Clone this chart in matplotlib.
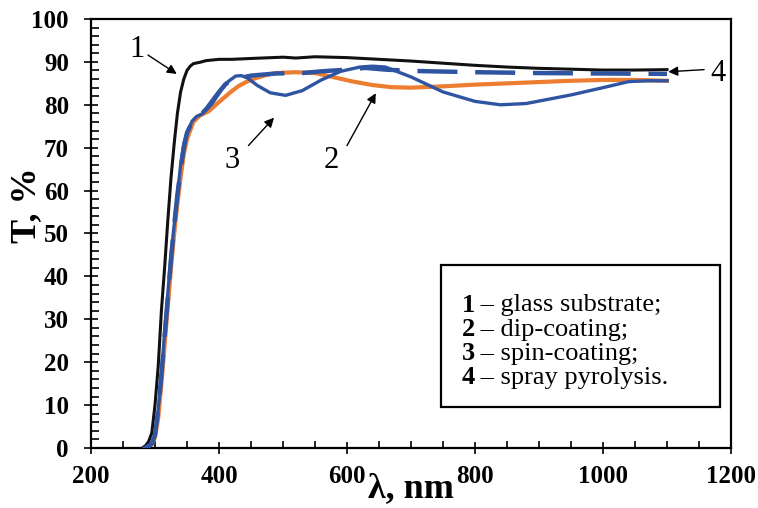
import matplotlib
matplotlib.use("Agg")
import matplotlib.pyplot as plt
from matplotlib.ticker import MultipleLocator
from matplotlib.patches import Rectangle

# curve 1 - glass substrate
glass_x = [280, 285, 290, 295, 300, 305, 310, 315, 320, 325, 330, 335, 340, 345, 350, 355,
           360, 370, 380, 400, 420, 450, 500, 520, 550, 600, 650, 700, 750, 800, 850, 900,
           950, 1000, 1050, 1100]
glass_y = [0, 0.5, 1.5, 3.5, 10, 19, 32, 42, 53, 63, 71, 78, 83, 86, 88, 89,
           89.6, 89.9, 90.3, 90.6, 90.6, 90.8, 91.1, 90.9, 91.2, 91.0, 90.6, 90.2, 89.7, 89.2, 88.8, 88.5,
           88.3, 88.1, 88.1, 88.2]

# curve 2 - dip-coating
dip_x = [285, 295, 300, 305, 310, 315, 320, 325, 330, 335, 340, 345, 350, 360, 370, 384, 395,
         405, 420, 431, 445, 457, 475, 489, 520, 550, 580, 610, 640, 670, 700, 750, 800, 850,
         900, 950, 1000, 1050, 1100]
dip_y = [0, 0.8, 2.5, 7, 15, 24, 33, 42, 50, 57, 63, 68.5, 72, 76, 77.5, 78.5, 80,
         81.3, 83.2, 84.4, 85.5, 86.2, 87, 87.4, 87.6, 87.4, 86.4, 85.4, 84.6, 84.1, 84.0, 84.3, 84.7, 85.0,
         85.3, 85.6, 85.8, 85.8, 85.6]

# curve 3 - spin-coating
spin_x = [283, 290, 295, 300, 305, 310, 315, 320, 325, 330, 335, 340, 345, 350, 358, 365, 373,
          380, 389, 397, 405, 415, 426, 435, 445, 460, 480, 504, 530, 560, 590, 620, 640, 660,
          700, 750, 800, 840, 880, 950, 1000, 1040, 1070, 1100]
spin_y = [0, 0.2, 1, 3, 9, 17, 27, 36, 45, 52, 59, 66, 71, 73.5, 76.2, 77.3, 77.8,
          78.8, 80.2, 82, 83.7, 85.5, 86.7, 86.8, 86.2, 84.5, 82.8, 82.2, 83.3, 85.8, 87.8, 88.8, 89, 88.8,
          86.5, 83, 80.8, 80, 80.3, 82.3, 84, 85.4, 85.6, 85.6]

# curve 4 - spray pyrolysis
spray_x = [285, 295, 300, 305, 310, 315, 320, 325, 330, 335, 340, 345, 350, 358, 370, 380, 390,
           400, 410, 420, 431, 450, 489, 530, 560, 600, 629, 660, 700, 800, 900, 1000, 1100]
spray_y = [0, 1, 3, 9, 17, 26, 35, 44, 52, 59, 65, 70, 73.5, 76, 77.5, 79, 81,
           83, 84.8, 85.8, 86.2, 86.8, 87.3, 87.4, 87.8, 88.2, 88.6, 88.2, 87.9, 87.6, 87.4, 87.3, 87.2]

legend_nums = ["1", "2", "3", "4"]
legend_texts = ["glass substrate;", "dip-coating;", "spin-coating;", "spray pyrolysis."]

serif = "Liberation Serif"
plt.rcParams['font.family'] = serif

fig = plt.figure(figsize=(7.58, 5.08), dpi=100)
ax = fig.add_axes([91 / 758, 1 - 448 / 508, 640 / 758, 429 / 508])

ax.plot(glass_x, glass_y, color='#111111', lw=2.2, zorder=3)
ax.plot(dip_x, dip_y, color='#ED7D31', lw=3, zorder=2)
ax.plot(spin_x, spin_y, color='#2F55A2', lw=2.4, zorder=4)
ax.plot(spray_x, spray_y, color='#2F55A2', lw=3.2, ls=(0, (9, 4)), zorder=5)

ax.set_xlim(200, 1200)
ax.set_ylim(0, 100)
ax.xaxis.set_major_locator(MultipleLocator(200))
ax.xaxis.set_minor_locator(MultipleLocator(50))
ax.yaxis.set_major_locator(MultipleLocator(10))
ax.yaxis.set_minor_locator(MultipleLocator(2))
ax.tick_params(axis='x', which='major', direction='inout', length=9, width=1.2, pad=8, labelsize=18)
ax.tick_params(axis='x', which='minor', direction='in', length=5, width=1.2)
ax.tick_params(axis='y', which='major', direction='inout', length=10, width=1.2, pad=11, labelsize=18)
ax.tick_params(axis='y', which='minor', direction='in', length=6, width=1.2)
for lab in ax.get_xticklabels() + ax.get_yticklabels():
    lab.set_fontweight('bold')
for sp in ax.spines.values():
    sp.set_linewidth(1.6)

fig.text(411 / 758, 1 - 489 / 508, "λ, nm", fontsize=26, fontweight='bold', ha='center', va='center')
fig.text(27 / 758, 1 - 205 / 508, "T, %", fontsize=26, fontweight='bold', ha='center', va='center',
         rotation=90)

# curve labels with arrows
arrow = dict(arrowstyle='-|>', color='black', lw=1, mutation_scale=14, shrinkA=0, shrinkB=0)
ax.text(272, 93, "1", fontsize=22, ha='center', va='center')
ax.annotate("", xy=(334, 87.2), xytext=(289, 91.6), arrowprops=arrow)
ax.text(420, 67, "3", fontsize=22, ha='center', va='center')
ax.annotate("", xy=(486, 77), xytext=(446, 70.5), arrowprops=arrow)
ax.text(576, 67, "2", fontsize=22, ha='center', va='center')
ax.annotate("", xy=(645, 82.7), xytext=(600, 70.5), arrowprops=arrow)
ax.text(1180, 87.2, "4", fontsize=22, ha='center', va='center')
ax.annotate("", xy=(1102, 87.7), xytext=(1158, 88.2), arrowprops=arrow)

# legend box
bx0, bx1 = (441 - 91) / 640, (720 - 91) / 640
by0, by1 = (448 - 407) / 429, (448 - 265) / 429
ax.add_patch(Rectangle((bx0, by0), bx1 - bx0, by1 - by0, transform=ax.transAxes,
                       fill=False, lw=1.6, edgecolor='black', zorder=6))
rows_py = [305, 330, 354, 378]
for num, txt, py in zip(legend_nums, legend_texts, rows_py):
    yy = (448 - py) / 429
    ax.text((462 - 91) / 640, yy, num, transform=ax.transAxes, fontsize=19, fontweight='bold',
            va='center', ha='left')
    ax.text((474 - 91) / 640, yy, " – " + txt, transform=ax.transAxes, fontsize=19,
            va='center', ha='left')

fig.savefig("out.png", dpi=100)
